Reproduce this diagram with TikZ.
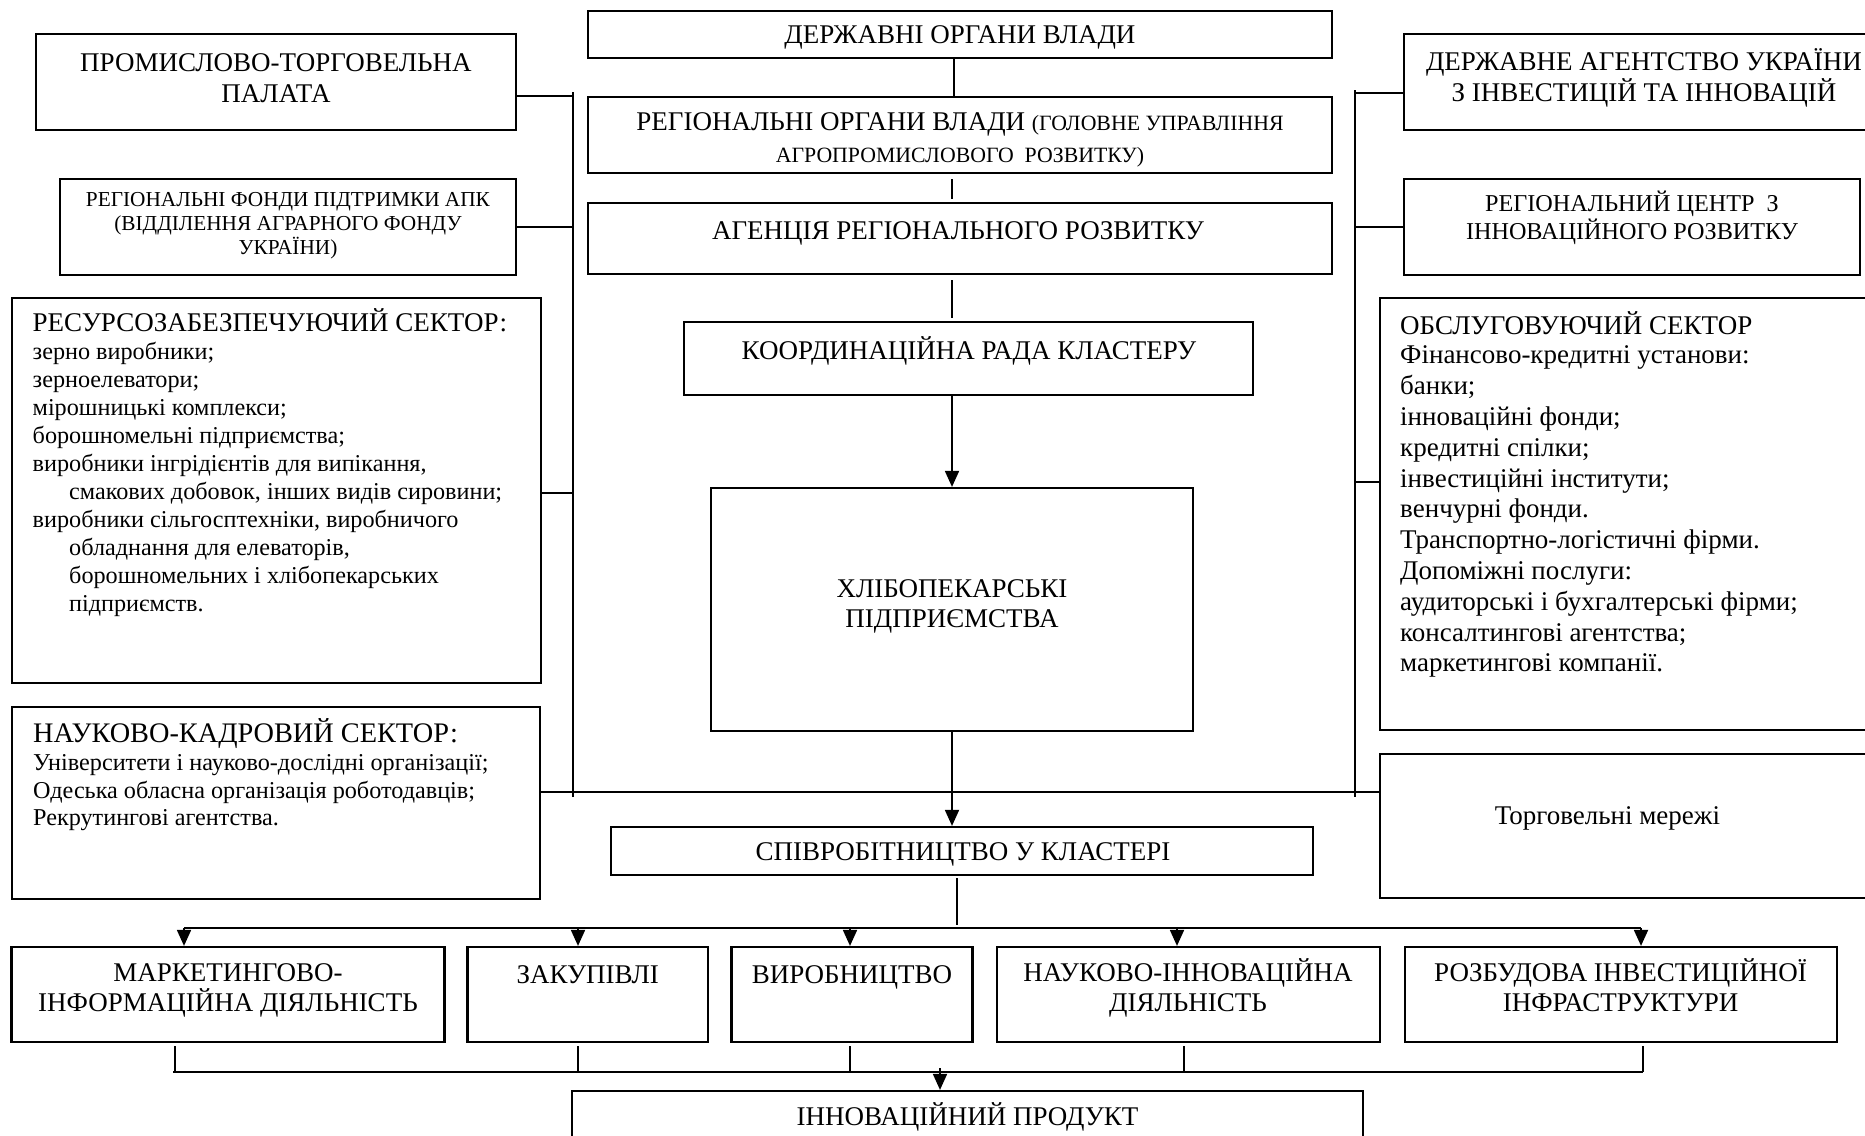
\documentclass[tikz,border=0pt]{standalone}
\usepackage{fontspec}
\setmainfont{Liberation Serif}
\usetikzlibrary{arrows.meta,fit}
\begin{document}
\begin{tikzpicture}[x=1pt,y=-1pt,
  boxst/.style={draw,line width=2.2pt,inner sep=0pt},
  conn/.style={line width=2pt},
  thinl/.style={line width=1.4pt},
  arr/.style={line width=1.8pt,-{Triangle[length=16pt,width=14pt]}},
  big/.style={font=\fontsize{27}{30.5}\selectfont,align=center,inner sep=0pt},
  bigone/.style={font=\fontsize{27}{30.5}\selectfont,inner sep=0pt,text height=17.9pt,text depth=0pt},
  smallc/.style={font=\fontsize{21.3}{24}\selectfont,align=center,inner sep=0pt},
  midc/.style={font=\fontsize{24.2}{27.5}\selectfont,align=center,inner sep=0pt},
  body/.style={font=\fontsize{24.2}{27.9}\selectfont,align=left,inner sep=0pt,anchor=north west},
  bodyr/.style={font=\fontsize{27}{30.8}\selectfont,align=left,inner sep=0pt,anchor=north west},
]
\useasboundingbox (0,0) rectangle (1865,1135);
\clip (0,0) rectangle (1865,1135);

% ---------- central column ----------
\node[boxst,fit={(588,11) (1332,58)}] (gov) {};
\node[bigone] (govt) at (960,35) {ДЕРЖАВНІ ОРГАНИ ВЛАДИ};
\node[boxst,fit={(588,97) (1332,173)}] (reg) {};
\node[font=\fontsize{27}{32}\selectfont,align=center,inner sep=0pt] (regt) at (960,140) {РЕГІОНАЛЬНІ ОРГАНИ ВЛАДИ {\fontsize{21.8}{32}\selectfont (ГОЛОВНЕ УПРАВЛІННЯ}\\{\fontsize{21.8}{32}\selectfont АГРОПРОМИСЛОВОГО\ \ РОЗВИТКУ)}};
\node[boxst,fit={(588,203) (1332,274)}] (agency) {};
\node[bigone] (agencyt) at (958,231) {АГЕНЦІЯ РЕГІОНАЛЬНОГО РОЗВИТКУ};
\node[boxst,fit={(684,322) (1253,395)}] (coord) {};
\node[bigone] (coordt) at (969,351) {КООРДИНАЦІЙНА РАДА КЛАСТЕРУ};
\node[boxst,fit={(711,488) (1193,731)}] (bakery) {};
\node[big] (bakeryt) at (952,606.5) {ХЛІБОПЕКАРСЬКІ\\ПІДПРИЄМСТВА};
\node[boxst,fit={(611,827) (1313,875)}] (coop) {};
\node[bigone] (coopt) at (963,852) {СПІВРОБІТНИЦТВО У КЛАСТЕРІ};

% ---------- left column ----------
\node[boxst,fit={(36,34) (516,130)}] (ptp) {};
\node[big] (ptpt) at (276,78) {ПРОМИСЛОВО-ТОРГОВЕЛЬНА\\ПАЛАТА};
\node[boxst,fit={(60,179) (516,275)}] (fund) {};
\node[smallc] (fundt) at (288,226) {РЕГІОНАЛЬНІ ФОНДИ ПІДТРИМКИ АПК\\(ВІДДІЛЕННЯ АГРАРНОГО ФОНДУ\\УКРАЇНИ)};
\node[boxst,fit={(12,298) (541,683)}] (res) {};
\node[body] (rest) at (32.5,308) {{\fontsize{27}{30}\selectfont РЕСУРСОЗАБЕЗПЕЧУЮЧИЙ СЕКТОР:}\\[1pt]
зерно виробники;\\
зерноелеватори;\\
мірошницькі комплекси;\\
борошномельні підприємства;\\
виробники інгрідієнтів для випікання,\\
\hspace*{36.5pt}смакових добовок, інших видів сировини;\\
виробники сільгосптехніки, виробничого\\
\hspace*{36.5pt}обладнання для елеваторів,\\
\hspace*{36.5pt}борошномельних і хлібопекарських\\
\hspace*{36.5pt}підприємств.};
\node[boxst,fit={(12,707) (540,899)}] (sci) {};
\node[body] (scit) at (33,718) {{\fontsize{28.3}{30}\selectfont НАУКОВО-КАДРОВИЙ СЕКТОР:}\\
Університети і науково-дослідні організації;\\
Одеська обласна організація роботодавців;\\
Рекрутингові агентства.};

% ---------- right column ----------
\node[boxst,fit={(1404,34) (1884,130)}] (dag) {};
\node[big] (dagt) at (1644,78) {ДЕРЖАВНЕ АГЕНТСТВО УКРАЇНИ\\З ІНВЕСТИЦІЙ ТА ІННОВАЦІЙ};
\node[boxst,fit={(1404,179) (1860,275)}] (rc) {};
\node[midc] (rct) at (1632,218) {РЕГІОНАЛЬНИЙ ЦЕНТР\ \ З\\ІННОВАЦІЙНОГО РОЗВИТКУ};
\node[boxst,fit={(1380,298) (1884,730)}] (serv) {};
\node[bodyr] (servt) at (1400,311) {{\fontsize{27}{30}\selectfont ОБСЛУГОВУЮЧИЙ СЕКТОР}\\[-1pt]
Фінансово-кредитні установи:\\
банки;\\
інноваційні фонди;\\
кредитні спілки;\\
інвестиційні інститути;\\
венчурні фонди.\\
Транспортно-логістичні фірми.\\
Допоміжні послуги:\\
аудиторські і бухгалтерські фірми;\\
консалтингові агентства;\\
маркетингові компанії.};
\node[boxst,fit={(1380,754) (1884,898)}] (torg) {};
\node[font=\fontsize{27}{30}\selectfont,inner sep=0pt] (torgt) at (1607.5,818) {Торговельні мережі};

% ---------- bottom row ----------
\node[boxst,fit={(11.5,947) (444.5,1042)}] (mk) {};
\node[big] (mkt) at (228,990.5) {МАРКЕТИНГОВО-\\ІНФОРМАЦІЙНА ДІЯЛЬНІСТЬ};
\node[boxst,fit={(467.5,947) (708,1042)}] (zk) {};
\node[bigone] (zkt) at (587.7,975) {ЗАКУПІВЛІ};
\node[boxst,fit={(731.5,947) (972.5,1042)}] (vb) {};
\node[bigone] (vbt) at (852,975) {ВИРОБНИЦТВО};
\node[boxst,fit={(996.6,947) (1380,1042)}] (ni) {};
\node[big] (nit) at (1188,988) {НАУКОВО-ІННОВАЦІЙНА\\ДІЯЛЬНІСТЬ};
\node[boxst,fit={(1404.6,947) (1836.6,1042)}] (rz) {};
\node[big] (rzt) at (1620.6,985) {РОЗБУДОВА ІНВЕСТИЦІЙНОЇ\\ІНФРАСТРУКТУРИ};
\node[boxst,fit={(572,1091) (1363,1160)}] (inn) {};
\node[bigone] (innt) at (967.5,1117) {ІННОВАЦІЙНИЙ ПРОДУКТ};

% ---------- helper coordinates ----------
\coordinate (cx) at (952,0);
\coordinate (cx2) at (957,0);
\coordinate (lbt) at (573,92);
\coordinate (lbb) at (573,797);
\coordinate (rbt) at (1355,90);
\coordinate (rbb) at (1355,797);
\coordinate (c1) at (573,96);
\coordinate (c2) at (1355,93);
\coordinate (c3) at (1355,482);
\coordinate (hy) at (0,792);
\coordinate (a1) at (184,928);
\coordinate (a2) at (578,928);
\coordinate (a3) at (850,928);
\coordinate (a4) at (1177,928);
\coordinate (a5) at (1641,928);
\coordinate (b1) at (175,1072);
\coordinate (b2) at (578,1072);
\coordinate (b3) at (850,1072);
\coordinate (b4) at (1184,1072);
\coordinate (b5) at (1643,1072);
\coordinate (ia) at (940,1068);

% ---------- central connectors ----------
\draw[conn] ([xshift=-6pt]gov.south) -- ([xshift=-6pt]reg.north);
\draw[conn,shorten <=5pt,shorten >=3pt] (reg.south -| cx) -- (agency.north -| cx);
\draw[conn,shorten <=5pt,shorten >=3pt] (agency.south -| cx) -- (coord.north -| cx);
\draw[arr] (coord.south -| cx) -- (bakery.north -| cx);
\draw[arr] (bakery.south -| cx) -- (coop.north -| cx);

% ---------- side buses ----------
\draw[conn] (lbt) -- (lbb);
\draw[conn] (rbt) -- (rbb);
\draw[conn] (ptp.east |- c1) -- (c1);
\draw[conn] (fund.east) -- (fund.east -| lbt);
\draw[conn] (res.east |- 0,493) -- (lbt |- 0,493);
\draw[conn] (c2) -- (dag.west |- c2);
\draw[conn] (rc.west -| rbt) -- (rc.west);
\draw[conn] (c3) -- (serv.west |- c3);
\draw[conn] (sci.east |- hy) -- (torg.west |- hy);

% ---------- distribution to activities ----------
\draw[thinl,shorten <=2pt,shorten >=3pt] (coop.south -| cx2) -- (cx2 |- a1);
\draw[conn] (a1) -- (a5);
\draw[arr] (a1) -- (a1 |- mk.north);
\draw[arr] (a2) -- (a2 |- zk.north);
\draw[arr] (a3) -- (a3 |- vb.north);
\draw[arr] (a4) -- (a4 |- ni.north);
\draw[arr] (a5) -- (a5 |- rz.north);

% ---------- collection to product ----------
\draw[thinl,shorten <=3pt] (b1 |- mk.south) -- (b1);
\draw[thinl,shorten <=3pt] (b2 |- zk.south) -- (b2);
\draw[thinl,shorten <=3pt] (b3 |- vb.south) -- (b3);
\draw[thinl,shorten <=3pt] (b4 |- ni.south) -- (b4);
\draw[thinl,shorten <=3pt] (b5 |- rz.south) -- (b5);
\draw[conn] ([xshift=-2pt]b1) -- (b5);
\draw[arr] (ia) -- (ia |- inn.north);
\end{tikzpicture}
\end{document}
